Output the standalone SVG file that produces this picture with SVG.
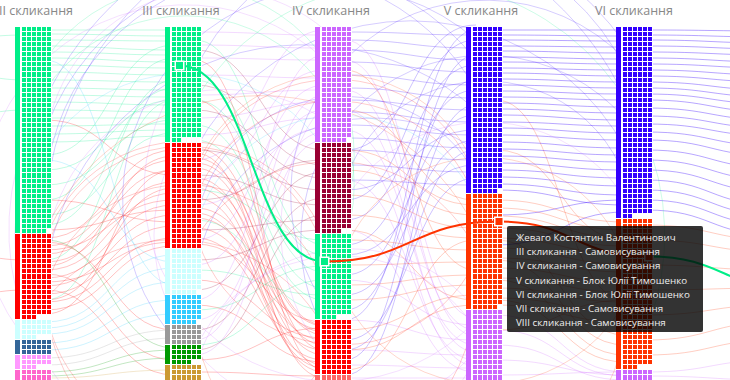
<svg xmlns="http://www.w3.org/2000/svg" width="730" height="380" viewBox="0 0 730 380">
<defs>
<style>
.h{font-family:"Open Sans","Noto Sans",sans-serif;font-size:12.5px;fill:#888;text-anchor:middle}
.tt{font-family:"Open Sans","Noto Sans",sans-serif;font-size:9.8px;fill:#eee}
.lines path{fill:none;stroke-width:1}
.lines .adj{stroke-opacity:.24}
.lines .arc{stroke-opacity:.2}
.lines .hz{stroke-opacity:.35}
.g{stroke:#00ee88}.r{stroke:#f00}.p{stroke:#c6f}.b{stroke:#30f}.o{stroke:#f30}.c{stroke:#3cf}.m{stroke:#903}.k{stroke:#999}.d{stroke:#090}.y{stroke:#c93}
.col{shape-rendering:crispEdges}
.bg{fill:#fff}
.hg{fill:none;stroke:#fff;stroke-width:29;stroke-dasharray:1 4.05}
.vg{fill:none;stroke:#fff;stroke-width:1}
.hl{fill:none;stroke-width:2}
.hs{stroke:#fff;stroke-width:1.5}
</style>
</defs>
<rect width="730" height="380" fill="#fff"/>

<g id="connectors" class="lines">
<g class="adj">
<g class="g">
<path d="M45,30C110,30 110,30 175,30M45,34C110,34 110,36 175,36M45,40C110,40 110,41 175,41M45,46C110,46 110,50 175,50M45,52C110,52 110,55 175,55M45,58C110,58 110,62 175,62M45,65C110,65 110,68 175,68M45,72C110,72 110,75 175,75M45,80C110,80 110,82 175,82M45,88C110,88 110,90 175,90M45,95C110,95 110,97 175,97M45,102C110,102 110,105 175,105M45,110C110,110 110,112 175,112M45,118C110,118 110,118 175,118M45,126C110,126 110,124 175,124M45,134C110,134 110,130 175,130M45,142C110,142 110,136 175,136"/>
<path d="M45,155C110,155 110,45 175,45M45,170C110,170 110,100 175,100M45,185C110,185 110,120 175,120M45,200C110,200 110,58 175,58M45,215C110,215 110,133 175,133M45,225C110,225 110,88 175,88M45,300C110,300 110,100 175,100M45,260C110,260 110,80 175,80"/>
<path d="M195,40C260,40 260,245 325,245M195,80C260,80 260,255 325,255M195,100C260,100 260,272 325,272M195,125C260,125 260,288 325,288M195,140C260,140 260,300 325,300M195,190C260,190 260,240 325,240M195,220C260,220 260,310 325,310M195,270C260,270 260,295 325,295M195,310C260,310 260,266 325,266M195,345C260,345 260,280 325,280"/>
<path d="M-80,40C-15,40 -15,35 25,35M-80,70C-15,70 -15,80 25,80M-80,120C-15,120 -15,110 25,110"/>
</g>
<g class="r">
<path d="M45,238C110,238 110,150 175,150M45,246C110,246 110,160 175,160M45,254C110,254 110,170 175,170M45,262C110,262 110,182 175,182M45,270C110,270 110,193 175,193M45,278C110,278 110,205 175,205M45,286C110,286 110,215 175,215M45,294C110,294 110,226 175,226M45,302C110,302 110,238 175,238M45,310C110,310 110,246 175,246M45,250C110,250 110,200 175,200M45,266C110,266 110,156 175,156M45,282C110,282 110,242 175,242M45,300C110,300 110,188 175,188M45,314C110,314 110,170 175,170M45,120C110,120 110,175 175,175M45,200C110,200 110,222 175,222M45,230C110,230 110,210 175,210M45,242C110,242 110,330 175,330M45,274C110,274 110,360 175,360M45,290C110,290 110,375 175,375"/>
<path d="M195,148C260,148 260,325 325,325M195,158C260,158 260,335 325,335M195,168C260,168 260,345 325,345M195,178C260,178 260,355 325,355M195,188C260,188 260,365 325,365M195,198C260,198 260,372 325,372M195,208C260,208 260,330 325,330M195,218C260,218 260,340 325,340M195,228C260,228 260,350 325,350M195,238C260,238 260,360 325,360M195,244C260,244 260,322 325,322M195,60C260,60 260,370 325,370M195,100C260,100 260,350 325,350M195,280C260,280 260,338 325,338M195,305C260,305 260,362 325,362M195,360C260,360 260,328 325,328M195,372C260,372 260,376 325,376M195,153C260,153 260,378 325,378M195,163C260,163 260,326 325,326M195,183C260,183 260,332 325,332M195,213C260,213 260,368 325,368"/>
<path d="M-80,250C-15,250 -15,260 25,260M-80,300C-15,300 -15,290 25,290"/>
</g>
<g class="c">
<path d="M45,322C110,322 110,255 175,255M45,328C110,328 110,268 175,268M45,334C110,334 110,282 175,282M45,343C110,343 110,300 175,300M45,350C110,350 110,314 175,314M45,160C110,160 110,262 175,262M45,60C110,60 110,285 175,285"/>
</g>
<path class="k" d="M45,358C110,358 110,330 175,330M45,365C110,365 110,338 175,338"/>
<path class="d" d="M45,372C110,372 110,350 175,350M45,376C110,376 110,358 175,358M45,240C110,240 110,348 175,348"/>
<path class="y" d="M45,378C110,378 110,370 175,370"/>
<g class="p">
<path d="M195,32C260,32 260,35 325,35M195,45C260,45 260,48 325,48M195,58C260,58 260,60 325,60M195,75C260,75 260,78 325,78M195,95C260,95 260,90 325,90M195,118C260,118 260,102 325,102M195,135C260,135 260,118 325,118M195,160C260,160 260,30 325,30M195,180C260,180 260,70 325,70M195,205C260,205 260,128 325,128M195,240C260,240 260,85 325,85M195,265C260,265 260,110 325,110M195,300C260,300 260,55 325,55M195,320C260,320 260,132 325,132M195,340C260,340 260,95 325,95M195,355C260,355 260,140 325,140"/>
<path d="M345,40C410,40 410,318 476,318M345,90C410,90 410,330 476,330M345,130C410,130 410,345 476,345M345,180C410,180 410,360 476,360M345,230C410,230 410,372 476,372M345,280C410,280 410,325 476,325M345,320C410,320 410,340 476,340M345,350C410,350 410,355 476,355M345,365C410,365 410,368 476,368M345,378C410,378 410,378 476,378M345,60C410,60 410,336 476,336M345,110C410,110 410,352 476,352M345,150C410,150 410,366 476,366"/>
<path d="M496,315C561,315 561,372 626,372M496,330C561,330 561,376 626,376M496,345C561,345 561,380 626,380M496,360C561,360 561,375 626,375M496,375C561,375 561,372 626,372"/>
<path d="M646,372C711,372 711,360 776,360M646,376C711,376 711,380 776,380"/>
</g>
<g class="m">
<path d="M195,50C260,50 260,150 325,150M195,85C260,85 260,165 325,165M195,110C260,110 260,178 325,178M195,150C260,150 260,190 325,190M195,175C260,175 260,205 325,205M195,200C260,200 260,160 325,160M195,230C260,230 260,220 325,220M195,260C260,260 260,230 325,230M195,290C260,290 260,172 325,172M195,330C260,330 260,198 325,198M195,350C260,350 260,215 325,215"/>
</g>
<g class="b">
<path d="M345,32C410,32 410,35 476,35M345,40C410,40 410,48 476,48M345,50C410,50 410,60 476,60M345,62C410,62 410,72 476,72M345,75C410,75 410,85 476,85M345,88C410,88 410,98 476,98M345,100C410,100 410,110 476,110M345,112C410,112 410,122 476,122M345,125C410,125 410,135 476,135M345,138C410,138 410,148 476,148M345,150C410,150 410,160 476,160M345,165C410,165 410,172 476,172M345,180C410,180 410,185 476,185M345,200C410,200 410,40 476,40M345,220C410,220 410,65 476,65M345,245C410,245 410,90 476,90M345,275C410,275 410,115 476,115M345,295C410,295 410,140 476,140M345,320C410,320 410,30 476,30M345,340C410,340 410,178 476,178M345,360C410,360 410,55 476,55M345,375C410,375 410,105 476,105M345,150C410,150 410,25 476,25M345,190C410,190 410,130 476,130M345,255C410,255 410,165 476,165M345,310C410,310 410,80 476,80M345,350C410,350 410,150 476,150"/>
</g>
<g class="o">
<path d="M345,150C410,150 410,205 476,205M345,170C410,170 410,215 476,215M345,195C410,195 410,228 476,228M345,215C410,215 410,238 476,238M345,240C410,240 410,250 476,250M345,265C410,265 410,262 476,262M345,285C410,285 410,275 476,275M345,300C410,300 410,285 476,285M345,330C410,330 410,295 476,295M345,350C410,350 410,305 476,305M345,370C410,370 410,240 476,240M345,70C410,70 410,270 476,270M345,110C410,110 410,200 476,200M345,230C410,230 410,300 476,300"/>
<path d="M496,200C561,200 561,222 626,222M496,208C561,208 561,230 626,230M496,216C561,216 561,238 626,238M496,228C561,228 561,246 626,246M496,238C561,238 561,254 626,254M496,248C561,248 561,264 626,264M496,258C561,258 561,272 626,272M496,268C561,268 561,282 626,282M496,278C561,278 561,292 626,292M496,288C561,288 561,302 626,302M496,298C561,298 561,312 626,312M496,305C561,305 561,322 626,322M496,240C561,240 561,335 626,335M496,260C561,260 561,345 626,345M496,280C561,280 561,355 626,355M496,300C561,300 561,362 626,362M496,150C561,150 561,240 626,240M496,100C561,100 561,300 626,300M496,330C561,330 561,300 626,300"/>
<path d="M646,225C711,225 711,240 776,240M646,240C711,240 711,252 776,252M646,265C711,265 711,270 776,270M646,290C711,290 711,288 776,288M646,315C711,315 711,305 776,305M646,340C711,340 711,322 776,322M646,355C711,355 711,340 776,340"/>
</g>
</g>
<g class="hz b">
<path d="M496,30C561,30 561,30 626,30M496,35C561,35 561,36 626,36M496,40C561,40 561,41 626,41M496,46C561,46 561,47 626,47M496,51C561,51 561,53 626,53M496,57C561,57 561,59 626,59M496,62C561,62 561,64 626,64M496,68C561,68 561,70 626,70M496,73C561,73 561,76 626,76M496,79C561,79 561,82 626,82M496,85C561,85 561,88 626,88M496,91C561,91 561,94 626,94M496,97C561,97 561,100 626,100M496,103C561,103 561,107 626,107M496,109C561,109 561,113 626,113M496,115C561,115 561,120 626,120M496,122C561,122 561,126 626,126M496,128C561,128 561,133 626,133M496,135C561,135 561,140 626,140M496,142C561,142 561,148 626,148M496,149C561,149 561,155 626,155M496,156C561,156 561,162 626,162M496,163C561,163 561,170 626,170M496,170C561,170 561,178 626,178M496,177C561,177 561,186 626,186M496,184C561,184 561,195 626,195M496,190C561,190 561,205 626,205M496,215C561,215 561,200 626,200M496,245C561,245 561,212 626,212"/>
<path d="M646,30C711,30 711,31 776,31M646,35C711,35 711,37 776,37M646,40C711,40 711,43 776,43M646,46C711,46 711,49 776,49M646,52C711,52 711,55 776,55M646,58C711,58 711,62 776,62M646,64C711,64 711,68 776,68M646,70C711,70 711,75 776,75M646,76C711,76 711,82 776,82M646,82C711,82 711,90 776,90M646,88C711,88 711,97 776,97M646,94C711,94 711,104 776,104M646,100C711,100 711,112 776,112M646,108C711,108 711,120 776,120M646,116C711,116 711,128 776,128M646,124C711,124 711,136 776,136M646,132C711,132 711,146 776,146M646,140C711,140 711,156 776,156M646,150C711,150 711,168 776,168M646,160C711,160 711,180 776,180M646,170C711,170 711,192 776,192M646,180C711,180 711,205 776,205M646,190C711,190 711,215 776,215M646,200C711,200 711,225 776,225M646,210C711,210 711,235 776,235"/>
</g>
<g class="arc">
<path class="b" d="M45,300A250,250 0 0,1 476,60M45,330A260,260 0 0,1 476,110M195,320A180,180 0 0,1 476,150M195,280A220,220 0 0,1 626,70M345,360A160,160 0 0,1 626,120M45,250A320,320 0 0,1 626,45M195,230A150,150 0 0,1 476,175M345,280A140,140 0 0,1 626,180M195,360A170,170 0 0,1 476,40M45,200A230,230 0 0,1 476,90M345,330A150,150 0 0,1 626,60M195,380A200,200 0 0,1 626,150M45,370A280,280 0 0,1 626,100"/>
<path class="p" d="M45,280A180,180 0 0,1 325,120M45,360A200,200 0 0,1 325,60M195,350A160,160 0 0,1 476,330M45,150A170,170 0 0,1 325,30M345,200A150,150 0 0,1 626,375M195,120A160,160 0 0,0 476,350M45,100A200,200 0 0,0 476,360M195,60A170,170 0 0,0 476,320M345,80A160,160 0 0,0 626,378M195,370A160,160 0 0,1 476,310"/>
<path class="r" d="M45,240A140,140 0 0,1 325,340M45,270A150,150 0 0,0 325,360M195,160A150,150 0 0,0 476,260M45,300A170,170 0 0,1 325,330M195,200A140,140 0 0,1 476,300M45,310A200,200 0 0,0 476,240M195,240A160,160 0 0,1 476,250M45,255A140,140 0 0,1 325,326M45,290A145,145 0 0,1 325,370M195,175A150,150 0 0,1 476,280"/>
<path class="o" d="M195,170A150,150 0 0,1 476,280M345,150A140,140 0 0,0 626,300M45,230A240,240 0 0,1 476,230M195,250A180,180 0 0,0 626,330M345,250A150,150 0 0,1 626,260"/>
<path class="g" d="M45,90A140,140 0 0,1 325,280M45,60A150,150 0 0,1 325,250M195,100A200,200 0 0,1 626,370"/>
<path class="c" d="M45,330A150,150 0 0,1 325,150M195,300A150,150 0 0,1 476,200"/>
</g>
</g>

<g id="col-II" class="col">
<rect class="bg" x="15" y="27" width="37" height="353"/>
<g id="II-samovysuvannia" fill="#00ee88"><rect x="15" y="27" width="5" height="206"/><rect x="22" y="27" width="29" height="202"/><rect x="22" y="229" width="24" height="4.05"/></g>
<g id="II-red" fill="#f00"><rect x="15" y="234.05" width="5" height="84.85"/><rect x="22" y="234.05" width="29" height="80.8"/><rect x="22" y="314.85" width="14" height="4.05"/></g>
<g id="II-lightcyan" fill="#cff"><rect x="15" y="319.9" width="5" height="19.2"/><rect x="22" y="319.9" width="29" height="15.15"/><rect x="22" y="335.05" width="14" height="4.05"/></g>
<g id="II-steel" fill="#369"><rect x="15" y="340.1" width="5" height="14.15"/><rect x="22" y="340.1" width="29" height="15.15"/></g>
<g id="II-pink" fill="#f9f"><rect x="15" y="355.25" width="5" height="14.15"/><rect x="22" y="355.25" width="29" height="10.1"/><rect x="22" y="365.35" width="14" height="4.05"/></g>
<g id="II-hotpink" fill="#f6c"><rect x="15" y="370.4" width="5" height="14.15"/><rect x="22" y="370.4" width="29" height="15.15"/></g>
<path class="hg" d="M36.5,31.05V385"/>
<path class="vg" d="M26.5,27V385M31.5,27V385M36.5,27V385M41.5,27V385M46.5,27V385"/>
</g>

<g id="col-III" class="col">
<rect class="bg" x="165" y="27" width="37" height="353"/>
<g id="III-samovysuvannia" fill="#00ee88"><rect x="165" y="27" width="5" height="115.15"/><rect x="172" y="27" width="29" height="111.1"/><rect x="172" y="138.1" width="9" height="4.05"/></g>
<g id="III-red" fill="#f00"><rect x="165" y="143.15" width="5" height="105.05"/><rect x="172" y="143.15" width="29" height="106.05"/></g>
<g id="III-lightcyan" fill="#cff"><rect x="165" y="249.2" width="5" height="44.45"/><rect x="172" y="249.2" width="29" height="40.4"/><rect x="172" y="289.6" width="24" height="4.05"/></g>
<g id="III-sky" fill="#3cf"><rect x="165" y="294.65" width="5" height="29.3"/><rect x="172" y="294.65" width="29" height="25.25"/><rect x="172" y="319.9" width="24" height="4.05"/></g>
<g id="III-gray" fill="#999"><rect x="165" y="324.95" width="5" height="19.2"/><rect x="172" y="324.95" width="29" height="20.2"/></g>
<g id="III-green" fill="#090"><rect x="165" y="345.15" width="5" height="19.2"/><rect x="172" y="345.15" width="29" height="15.15"/><rect x="172" y="360.3" width="19" height="4.05"/></g>
<g id="III-gold" fill="#c93"><rect x="165" y="365.35" width="5" height="19.2"/><rect x="172" y="365.35" width="29" height="20.2"/></g>
<path class="hg" d="M186.5,31.05V385"/>
<path class="vg" d="M176.5,27V385M181.5,27V385M186.5,27V385M191.5,27V385M196.5,27V385"/>
</g>

<g id="col-IV" class="col">
<rect class="bg" x="315" y="27" width="37" height="353"/>
<g id="IV-purple" fill="#c6f"><rect x="315" y="27" width="5" height="115.15"/><rect x="322" y="27" width="29" height="111.1"/><rect x="322" y="138.1" width="24" height="4.05"/></g>
<g id="IV-maroon" fill="#903"><rect x="315" y="143.15" width="5" height="89.9"/><rect x="322" y="143.15" width="29" height="85.85"/><rect x="322" y="229" width="19" height="4.05"/></g>
<g id="IV-samovysuvannia" fill="#00ee88"><rect x="315" y="234.05" width="5" height="84.85"/><rect x="322" y="234.05" width="29" height="80.8"/><rect x="322" y="314.85" width="14" height="4.05"/></g>
<g id="IV-red" fill="#f00"><rect x="315" y="319.9" width="5" height="54.55"/><rect x="322" y="319.9" width="29" height="55.55"/></g>
<g id="IV-lightred" fill="#f66"><rect x="315" y="375.45" width="5" height="10"/><rect x="322" y="375.45" width="29" height="10"/></g>
<path class="hg" d="M336.5,31.05V385"/>
<path class="vg" d="M326.5,27V385M331.5,27V385M336.5,27V385M341.5,27V385M346.5,27V385"/>
</g>

<g id="col-V" class="col">
<rect class="bg" x="466" y="27" width="37" height="353"/>
<g id="V-blue" fill="#30f"><rect x="466" y="27" width="5" height="165.65"/><rect x="473" y="27" width="29" height="161.6"/><rect x="473" y="188.6" width="24" height="4.05"/></g>
<g id="V-byut" fill="#f30"><rect x="466" y="193.65" width="5" height="115.15"/><rect x="473" y="193.65" width="29" height="111.1"/><rect x="473" y="304.75" width="24" height="4.05"/></g>
<g id="V-purple" fill="#c6f"><rect x="466" y="309.8" width="5" height="74.75"/><rect x="473" y="309.8" width="29" height="75.75"/></g>
<path class="hg" d="M487.5,31.05V385"/>
<path class="vg" d="M477.5,27V385M482.5,27V385M487.5,27V385M492.5,27V385M497.5,27V385"/>
</g>

<g id="col-VI" class="col">
<rect class="bg" x="616" y="27" width="37" height="353"/>
<g id="VI-blue" fill="#30f"><rect x="616" y="27" width="5" height="190.9"/><rect x="623" y="27" width="29" height="186.85"/><rect x="623" y="213.85" width="9" height="4.05"/></g>
<g id="VI-byut" fill="#f30"><rect x="616" y="218.9" width="5" height="150.5"/><rect x="623" y="218.9" width="29" height="146.45"/><rect x="623" y="365.35" width="14" height="4.05"/></g>
<g id="VI-purple" fill="#c6f"><rect x="616" y="370.4" width="5" height="14.15"/><rect x="623" y="370.4" width="29" height="15.15"/></g>
<path class="hg" d="M637.5,31.05V385"/>
<path class="vg" d="M627.5,27V385M632.5,27V385M637.5,27V385M642.5,27V385M647.5,27V385"/>
</g>

<g id="headers">
<text class="h" x="36" y="15">II скликання</text>
<text class="h" x="181" y="15">III скликання</text>
<text class="h" x="331" y="15">IV скликання</text>
<text class="h" x="481" y="15">V скликання</text>
<text class="h" x="634" y="15">VI скликання</text>
</g>

<g id="highlight">
<path class="hl" stroke="#00ee88" d="M179.5,65.5C252,65.5 252,261.5 324.5,261.5"/>
<path class="hl" stroke="#f30" d="M324.5,261.5C412,261.5 412,221.5 499,221.5"/>
<path class="hl" stroke="#f30" d="M499,221.5C574,221.5 574,256.5 649,256.5"/>
<path class="hl" stroke="#00ee88" d="M649,256.5C724,256.5 724,290 799,290"/>
<rect class="hs" x="175.25" y="61.25" width="8.5" height="8.5" fill="#00ee88"/>
<rect class="hs" x="320.25" y="257.25" width="8.5" height="8.5" fill="#00ee88"/>
<rect class="hs" x="494.75" y="217.25" width="8.5" height="8.5" fill="#f30"/>
<rect class="hs" x="644.75" y="252.25" width="8.5" height="8.5" fill="#f30"/>
</g>

<g id="tooltip">
<rect x="507" y="226" width="196" height="106" rx="2" fill="#000" fill-opacity=".8"/>
<text class="tt" x="516" y="241">Жеваго Костянтин Валентинович</text>
<text class="tt" x="516" y="255.2">III скликання - Самовисування</text>
<text class="tt" x="516" y="269.4">IV скликання - Самовисування</text>
<text class="tt" x="516" y="283.6">V скликання - Блок Юлії Тимошенко</text>
<text class="tt" x="516" y="297.8">VI скликання - Блок Юлії Тимошенко</text>
<text class="tt" x="516" y="312">VII скликання - Самовисування</text>
<text class="tt" x="516" y="326.2">VIII скликання - Самовисування</text>
</g>
</svg>
